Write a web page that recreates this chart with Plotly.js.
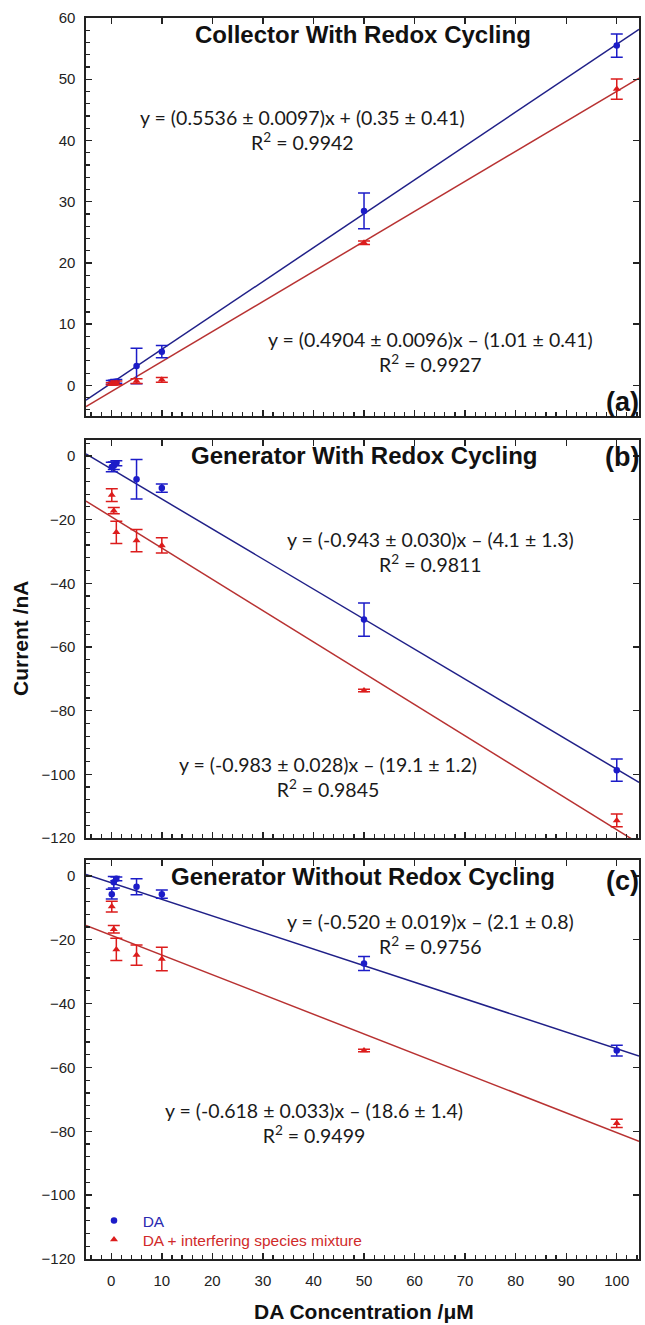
<!DOCTYPE html>
<html><head><meta charset="utf-8">
<script src="https://cdn.plot.ly/plotly-3.0.1.min.js"></script>
<style>html,body{margin:0;padding:0;background:#fff}</style>
</head><body><div id="chart" style="width:645px;height:1325px"></div>
<script>
// ---- data ----
const conc = [0.1, 0.5, 1, 5, 10, 50, 100];

const aDA      = [0.5, 0.55, 0.65, 3.15, 5.5, 28.5, 55.5];
const aDAerr   = [0.3, 0.3, 0.3, 2.9, 1.0, 2.9, 1.9];
const aMix     = [0.25, 0.3, 0.4, 0.7, 0.9, 23.3, 48.4];
const aMixErr  = [0.2, 0.2, 0.3, 0.4, 0.4, 0.3, 1.65];

const bDA      = [-3.5, -3.1, -2.3, -7.3, -10.1, -51.4, -98.7];
const bDAerr   = [1.5, 1.2, 0.8, 6.2, 1.3, 5.2, 3.5];
const bMix     = [-12.3, -17.2, -24.0, -26.6, -28.1, -73.7, -114.5];
const bMixErr  = [2.0, 1.0, 3.5, 3.5, 2.4, 0.4, 2.0];

const cDA      = [-5.7, -2.0, -0.9, -3.4, -5.7, -27.4, -54.7];
const cDAerr   = [1.5, 1.8, 0.6, 2.5, 1.3, 2.2, 1.7];
const cMix     = [-9.6, -16.7, -23.0, -24.8, -26.0, -54.7, -77.5];
const cMixErr  = [1.7, 1.2, 3.5, 3.2, 3.7, 0.4, 1.3];

// linear fits shown on the chart: [DA, mixture]
const fitSlope     = {a: [0.5536, 0.4904], b: [-0.943, -0.983], c: [-0.520, -0.618]};
const fitIntercept = {a: [0.35, -1.01],    b: [-4.1, -19.1],    c: [-2.1, -18.6]};

const panelTitles = ['Collector With Redox Cycling', 'Generator With Redox Cycling', 'Generator Without Redox Cycling'];
const panelLabels = ['(a)', '(b)', '(c)'];
const eqTexts = {
  a: ['y = (0.5536 ± 0.0097)x + (0.35 ± 0.41)<br>R<sup>2</sup> = 0.9942', 'y = (0.4904 ± 0.0096)x – (1.01 ± 0.41)<br>R<sup>2</sup> = 0.9927'],
  b: ['y = (-0.943 ± 0.030)x – (4.1 ± 1.3)<br>R<sup>2</sup> = 0.9811', 'y = (-0.983 ± 0.028)x – (19.1 ± 1.2)<br>R<sup>2</sup> = 0.9845'],
  c: ['y = (-0.520 ± 0.019)x – (2.1 ± 0.8)<br>R<sup>2</sup> = 0.9756', 'y = (-0.618 ± 0.033)x – (18.6 ± 1.4)<br>R<sup>2</sup> = 0.9499']
};
const seriesNames = ['DA', 'DA + interfering species mixture'];
const xTitle = 'DA Concentration /μM';
const yTitle = 'Current /nA';

// ---- styling ----
const W = 645, H = 1325;
const M = {l: 86, r: 6, t: 18, b: 66};
const XR = [-5, 104.4];
const blueM = '#1c1cc8', blueL = '#202088';
const redM = '#dc1c1c', redL = '#b83232';
const ink = '#222';
const pw = W - M.l - M.r, ph = H - M.t - M.b;
const px = (x) => (x - M.l) / pw;
const py = (y) => 1 - (y - M.t) / ph;
const dom = (top, bot) => [py(bot), py(top)];

const panels = [
  {key: 'a', xa: 'x',  ya: 'y',  data: [aDA, aMix], err: [aDAerr, aMixErr]},
  {key: 'b', xa: 'x2', ya: 'y2', data: [bDA, bMix], err: [bDAerr, bMixErr]},
  {key: 'c', xa: 'x3', ya: 'y3', data: [cDA, cMix], err: [cDAerr, cMixErr]}
];

const traces = [];
panels.forEach((p, pi) => {
  [0, 1].forEach(s => {
    traces.push({
      type: 'scatter', mode: 'lines', xaxis: p.xa, yaxis: p.ya,
      x: XR, y: XR.map(v => fitSlope[p.key][s] * v + fitIntercept[p.key][s]),
      line: {color: s === 0 ? blueL : redL, width: 1.5}, showlegend: false, hoverinfo: 'skip'
    });
  });
  [0, 1].forEach(s => {
    traces.push({
      type: 'scatter', mode: 'markers', xaxis: p.xa, yaxis: p.ya,
      x: conc, y: p.data[s],
      legend: s === 0 ? 'legend' : 'legend2',
      name: s === 0 ? '\u00a0\u00a0<span style="color:#2a2ab0">' + seriesNames[0] + '</span>'
                    : '\u00a0\u00a0<span style="color:#d02a2a">' + seriesNames[1] + '</span>',
      marker: {color: s === 0 ? blueM : redM, size: s === 0 ? 6.5 : 7, symbol: s === 0 ? 'circle' : 'triangle-up'},
      error_y: {type: 'data', array: p.err[s], visible: true, color: s === 0 ? blueM : redM, thickness: 1.5, width: 6},
      showlegend: pi === 2, hoverinfo: 'skip'
    });
  });
});
[['x4','y'],['x5','y2'],['x6','y3'],['x','y4'],['x2','y5'],['x3','y6']].forEach(([xa, ya]) => {
  traces.push({type: 'scatter', mode: 'markers', x: [], y: [], xaxis: xa, yaxis: ya, showlegend: false, hoverinfo: 'skip'});
});

const tickFont = {family: 'Liberation Sans, Arial, sans-serif', size: 15, color: ink};
function xAxis(anchor, labels) {
  return {domain: [0, 1], anchor: anchor, range: XR, showgrid: false, zeroline: false,
    showline: true, mirror: true, linecolor: ink, linewidth: 1.6,
    ticks: 'inside', ticklen: 6, tickwidth: 1.4, tickcolor: ink, tick0: 0, dtick: 10,
    minor: {ticks: 'inside', ticklen: 4, tickwidth: 1.2, tickcolor: ink, dtick: 2, tick0: 0},
    showticklabels: labels, tickfont: tickFont, ticklabelstandoff: 7};
}
function yAxis(anchor, d, range, dt, mdt) {
  return {domain: d, anchor: anchor, range: range, showgrid: false, zeroline: false,
    showline: true, mirror: true, linecolor: ink, linewidth: 1.6,
    ticks: 'inside', ticklen: 6, tickwidth: 1.4, tickcolor: ink, tick0: 0, dtick: dt,
    minor: {ticks: 'inside', ticklen: 4, tickwidth: 1.2, tickcolor: ink, dtick: mdt, tick0: 0},
    showticklabels: true, tickfont: tickFont, ticklabelstandoff: 6};
}
function xTop(over, anchor) {
  return {overlaying: over, anchor: anchor, side: 'top', range: XR, showgrid: false, zeroline: false,
    showline: false, ticks: 'inside', ticklen: 6, tickwidth: 1.4, tickcolor: ink, tick0: 0, dtick: 10, showticklabels: false};
}
function yRight(over, anchor, range, dt) {
  return {overlaying: over, anchor: anchor, side: 'right', range: range, showgrid: false, zeroline: false,
    showline: false, ticks: 'inside', ticklen: 6, tickwidth: 1.4, tickcolor: ink, tick0: 0, dtick: dt, showticklabels: false};
}

const dA = dom(18, 416), dB = dom(440, 838), dC = dom(860, 1259);
const ann = [];
function addText(text, x, y, font, extra) {
  ann.push(Object.assign({xref: 'paper', yref: 'paper', x: px(x), y: py(y), text: text, showarrow: false,
    xanchor: 'center', yanchor: 'middle', font: font}, extra || {}));
}
const titleFont = {family: 'Liberation Sans, Arial, sans-serif', size: 24, color: '#111'};
const labFont = {family: 'Liberation Sans, Arial, sans-serif', size: 27, color: '#111'};
const eqFont = {family: 'Lato, Carlito, sans-serif', size: 19.5, color: '#1a1a1a'};
addText('<b>' + panelTitles[0] + '</b>', 363, 34, titleFont);
addText('<b>' + panelTitles[1] + '</b>', 364, 455, titleFont);
addText('<b>' + panelTitles[2] + '</b>', 363, 876, titleFont);
addText('<b>' + panelLabels[0] + '</b>', 641, 402, labFont, {xanchor: 'right'});
addText('<b>' + panelLabels[1] + '</b>', 641, 457, labFont, {xanchor: 'right'});
addText('<b>' + panelLabels[2] + '</b>', 641, 881, labFont, {xanchor: 'right'});
addText(eqTexts.a[0], 302, 130, eqFont);
addText(eqTexts.a[1], 430, 352, eqFont);
addText(eqTexts.b[0], 430, 552, eqFont);
addText(eqTexts.b[1], 328, 777, eqFont);
addText(eqTexts.c[0], 430, 934, eqFont);
addText(eqTexts.c[1], 314, 1123, eqFont);
addText('<b>' + xTitle + '</b>', 364, 1311, {family: 'Liberation Sans, Arial, sans-serif', size: 21, color: '#111'});
addText('<b>' + yTitle + '</b>', 20, 638, {family: 'Liberation Sans, Arial, sans-serif', size: 21, color: '#111'}, {textangle: -90});

const legFont = {family: 'Liberation Sans, Arial, sans-serif', size: 15.5};
const layout = {
  width: W, height: H, margin: M, paper_bgcolor: '#fff', plot_bgcolor: '#fff',
  hovermode: false,
  xaxis: xAxis('y', false), xaxis2: xAxis('y2', false), xaxis3: xAxis('y3', true),
  yaxis: yAxis('x', dA, [-5, 60], 10, 2),
  yaxis2: yAxis('x2', dB, [-120, 5], 20, 4),
  yaxis3: yAxis('x3', dC, [-120, 5], 20, 4),
  xaxis4: xTop('x', 'y'), xaxis5: xTop('x2', 'y2'), xaxis6: xTop('x3', 'y3'),
  yaxis4: yRight('y', 'x', [-5, 60], 10), yaxis5: yRight('y2', 'x2', [-120, 5], 20), yaxis6: yRight('y3', 'x3', [-120, 5], 20),
  showlegend: true,
  legend: {x: px(94), y: py(1204), xanchor: 'left', yanchor: 'top', bgcolor: 'rgba(0,0,0,0)', borderwidth: 0, font: legFont},
  legend2: {x: px(94), y: py(1223), xanchor: 'left', yanchor: 'top', bgcolor: 'rgba(0,0,0,0)', borderwidth: 0, font: legFont},
  annotations: ann
};
Plotly.newPlot('chart', traces, layout, {staticPlot: true, displayModeBar: false});
</script>
</body></html>
